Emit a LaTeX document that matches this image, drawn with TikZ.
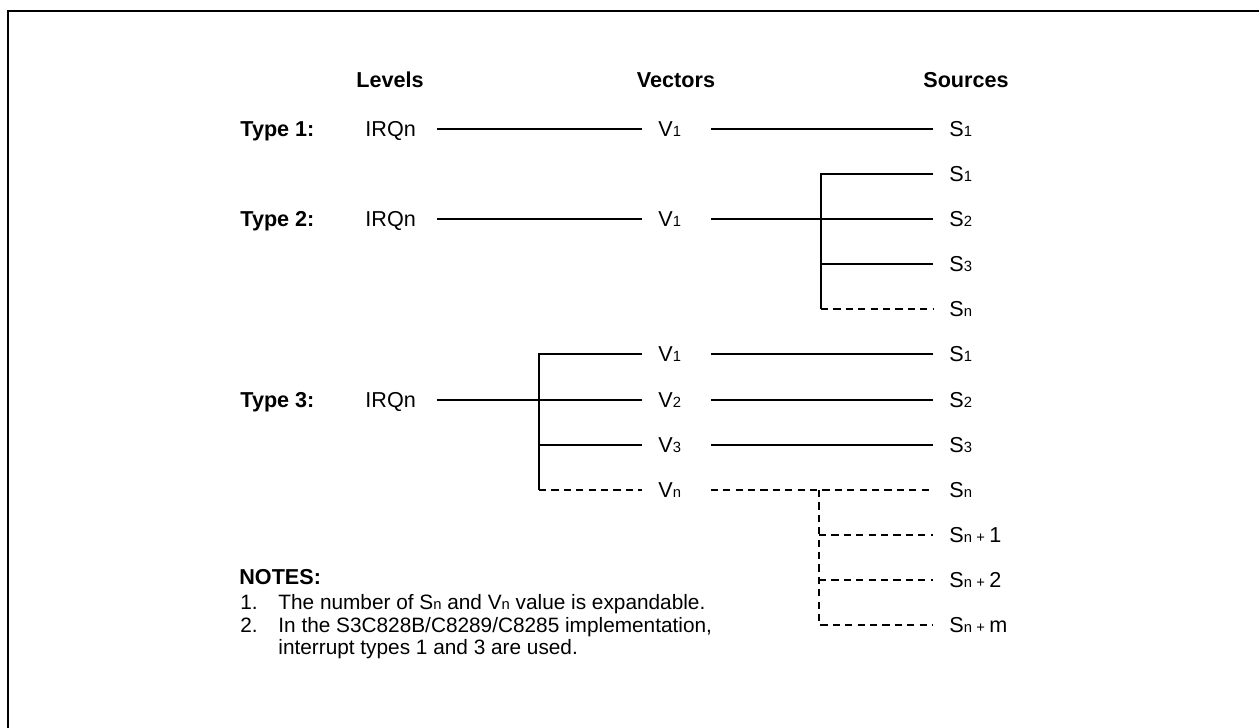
\documentclass[tikz,border=0pt]{standalone}
\usepackage{fontspec}
\setmainfont{Liberation Sans}
\usepackage{tikz}
\usetikzlibrary{positioning}
\newcommand{\sbs}[1]{{\fontsize{7.4}{8}\selectfont #1}}
\newcommand{\splus}{\hspace{2.2pt}\sbs{+}\hspace{2.2pt}}
\tikzset{%
  irqtext/.style={%
    font=\fontsize{10.8}{13}\selectfont,
    inner ysep=0pt,
    text height=9.8pt,
    text depth=2pt
  },
  headtext/.style={irqtext, inner xsep=0pt, font=\fontsize{10.8}{13}\selectfont\bfseries},
  typetext/.style={headtext, anchor=west},
  colbox/.style={irqtext, inner xsep=8pt, align=left, anchor=west},
  irqcol/.style={colbox, text width=27.5pt},
  veccol/.style={colbox, text width=18pt},
  srccol/.style={colbox, text width=32pt},
  notetext/.style={irqtext, inner xsep=0pt, anchor=west, font=\fontsize{10.4}{12}\selectfont},
  notehead/.style={typetext},
  irqwire/.style={line width=0.6pt},
  irqdash/.style={irqwire, dash pattern=on 3.6pt off 2.6pt},
  framewire/.style={line width=1pt}
}

\begin{document}
\begin{tikzpicture}[x=0.5pt,y=-0.5pt]
  \useasboundingbox (0,0) rectangle (1259,728);
  \draw[framewire] (8,11) rectangle (1280,750);

  % headings
  \node[headtext] (hlevels) at (390,80) {Levels};
  \node[headtext] (hvectors) at (676,80) {Vectors};
  \node[headtext] (hsources) at (966,80) {Sources};

  % type 1
  \node[typetext] (type1) at (240,129) {Type 1:};
  \node[irqcol] (irq1) at (349,129) {IRQn};
  \node[veccol] (vec1) at (642,129) {V\sbs{1}};
  \node[srccol] (src1) at (933,129) {S\sbs{1}};

  % type 2
  \node[typetext] (type2) at (240,219) {Type 2:};
  \node[irqcol] (irq2) at (349,219) {IRQn};
  \node[veccol] (vec2) at (642,219) {V\sbs{1}};
  \node[srccol] (src2a) at (933,174) {S\sbs{1}};
  \node[srccol] (src2b) at (933,219) {S\sbs{2}};
  \node[srccol] (src2c) at (933,264) {S\sbs{3}};
  \node[srccol] (src2d) at (933,309) {S\sbs{n}};
  \coordinate (fork2) at (821,219);

  % type 3
  \node[typetext] (type3) at (240,400) {Type 3:};
  \node[irqcol] (irq3) at (349,400) {IRQn};
  \node[veccol] (vec3a) at (642,354) {V\sbs{1}};
  \node[veccol] (vec3b) at (642,400) {V\sbs{2}};
  \node[veccol] (vec3c) at (642,445) {V\sbs{3}};
  \node[veccol] (vec3d) at (642,490) {V\sbs{n}};
  \node[srccol] (src3a) at (933,354) {S\sbs{1}};
  \node[srccol] (src3b) at (933,400) {S\sbs{2}};
  \node[srccol] (src3c) at (933,445) {S\sbs{3}};
  \node[srccol] (src3d) at (933,490) {S\sbs{n}};
  \node[srccol] (src3e) at (933,535) {S\sbs{n}\splus 1};
  \node[srccol] (src3f) at (933,580) {S\sbs{n}\splus 2};
  \node[srccol] (src3g) at (933,625) {S\sbs{n}\splus m};
  \coordinate (fork3) at (539,400);
  \coordinate (fork4) at (819,490);

  % notes
  \node[notehead] (notes) at (239,577) {NOTES:};
  \node[notetext] (num1) at (240,602) {1.};
  \node[notetext] (note1) at (278,602) {The number of S\sbs{n} and V\sbs{n} value is expandable.};
  \node[notetext] (num2) at (240,625) {2.};
  \node[notetext] (note2) at (278,625) {In the S3C828B/C8289/C8285 implementation,};
  \node[notetext] (note2b) at (278,647) {interrupt types 1 and 3 are used.};

  \draw[irqwire] (irq1) -- (vec1);
  \draw[irqwire] (vec1) -- (src1);

  \draw[irqwire] (irq2) -- (vec2);
  \draw[irqwire] (vec2) -- (src2b);
  \draw[irqwire] (src2a.west) -| (src2d.west -| fork2);
  \draw[irqwire] (src2c.west -| fork2) -- (src2c);
  \draw[irqdash] (src2d.west -| fork2) -- (src2d);

  \draw[irqwire] (irq3) -- (vec3b);
  \draw[irqwire] (vec3a.west) -| (vec3d.west -| fork3);
  \draw[irqwire] (vec3c.west -| fork3) -- (vec3c);
  \draw[irqdash] (vec3d.west -| fork3) -- (vec3d);
  \draw[irqwire] (vec3a) -- (src3a);
  \draw[irqwire] (vec3b) -- (src3b);
  \draw[irqwire] (vec3c) -- (src3c);
  \draw[irqdash] (vec3d) -- (src3d);
  \draw[irqdash] (fork4) |- (src3g);
  \draw[irqdash] (src3e.west -| fork4) -- (src3e);
  \draw[irqdash] (src3f.west -| fork4) -- (src3f);
\end{tikzpicture}
\end{document}
